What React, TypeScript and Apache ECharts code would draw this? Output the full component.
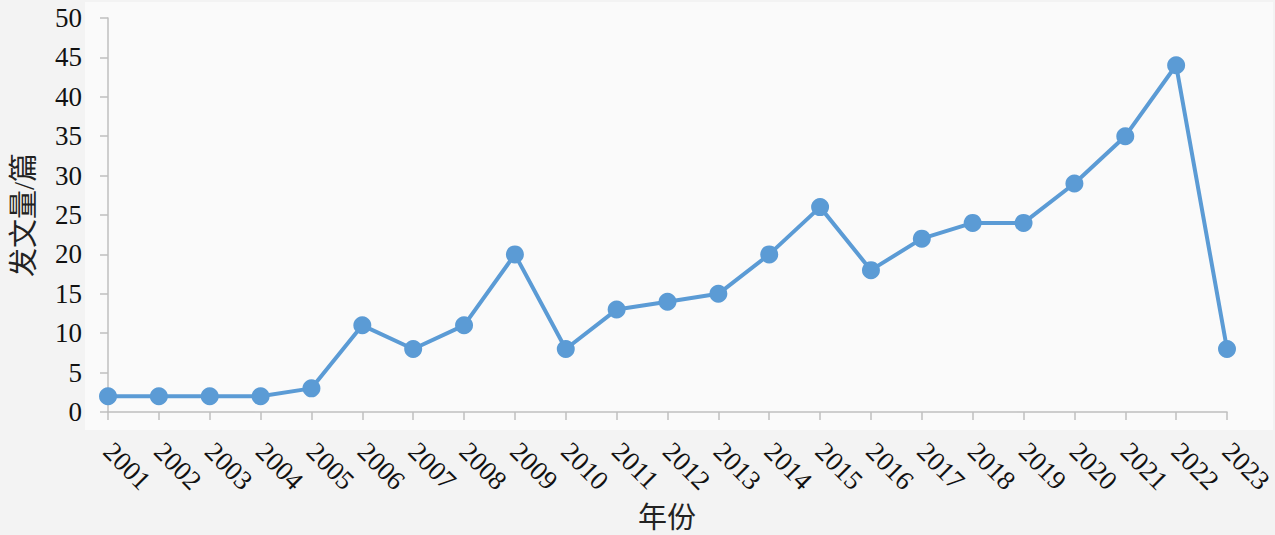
import React, { useEffect, useRef } from "react";
import * as echarts from "echarts";

const years = [
  "2001", "2002", "2003", "2004", "2005", "2006", "2007", "2008", "2009", "2010", "2011", "2012",
  "2013", "2014", "2015", "2016", "2017", "2018", "2019", "2020", "2021", "2022", "2023",
];
const counts = [2, 2, 2, 2, 3, 11, 8, 11, 20, 8, 13, 14, 15, 20, 26, 18, 22, 24, 24, 29, 35, 44, 8];
const yMin = 0;
const yMax = 50;
const yStep = 5;
const xTitle = "年份";
const yTitle = "发文量/篇";

const FONT = "'Liberation Serif', 'Times New Roman', 'Noto Sans CJK SC', serif";

export default function App() {
  const ref = useRef<HTMLDivElement>(null);
  useEffect(() => {
    const chart = echarts.init(ref.current!, null, { renderer: "svg" });
    chart.setOption({
      animation: false,
      backgroundColor: "#f3f3f3",
      graphic: [
        {
          type: "rect",
          z: -10,
          shape: { x: 85, y: 2, width: 1188, height: 428 },
          style: { fill: "#fafafa" },
          silent: true,
        },
        {
          type: "text",
          x: 667,
          y: 518,
          style: {
            text: xTitle,
            fontFamily: FONT,
            fontSize: 29,
            fill: "#222",
            align: "center",
            verticalAlign: "middle",
          },
        },
      ],
      grid: {
        left: 108,
        right: 48,
        top: 18,
        bottom: 123,
        containLabel: false,
        outerBoundsMode: "none",
      },
      xAxis: {
        type: "category",
        data: years,
        boundaryGap: false,
        axisLine: { lineStyle: { color: "#bfbfbf", width: 1.5 } },
        axisTick: { show: true, length: 8, lineStyle: { color: "#bfbfbf", width: 1.5 } },
        axisLabel: {
          rotate: -45,
          margin: 35,
          fontFamily: FONT,
          fontSize: 27,
          color: "#111",
          interval: 0,
        },
        splitLine: { show: false },
      },
      yAxis: {
        type: "value",
        min: yMin,
        max: yMax,
        interval: yStep,
        name: yTitle,
        nameLocation: "middle",
        nameGap: 70,
        nameTextStyle: { fontFamily: FONT, fontSize: 29, color: "#222" },
        axisLine: { show: true, lineStyle: { color: "#bfbfbf", width: 1.5 } },
        axisTick: { show: true, length: 8, lineStyle: { color: "#bfbfbf", width: 1.5 } },
        axisLabel: { margin: 26, fontFamily: FONT, fontSize: 27, color: "#111" },
        splitLine: { show: false },
      },
      series: [
        {
          type: "line",
          data: counts,
          symbol: "circle",
          symbolSize: 18,
          lineStyle: { color: "#5b9bd5", width: 4 },
          itemStyle: { color: "#5b9bd5" },
        },
      ],
    });
    return () => chart.dispose();
  }, []);
  return (
    <div
      ref={ref}
      style={{ position: "fixed", left: 0, top: 0, width: 1275, height: 535 }}
    />
  );
}
